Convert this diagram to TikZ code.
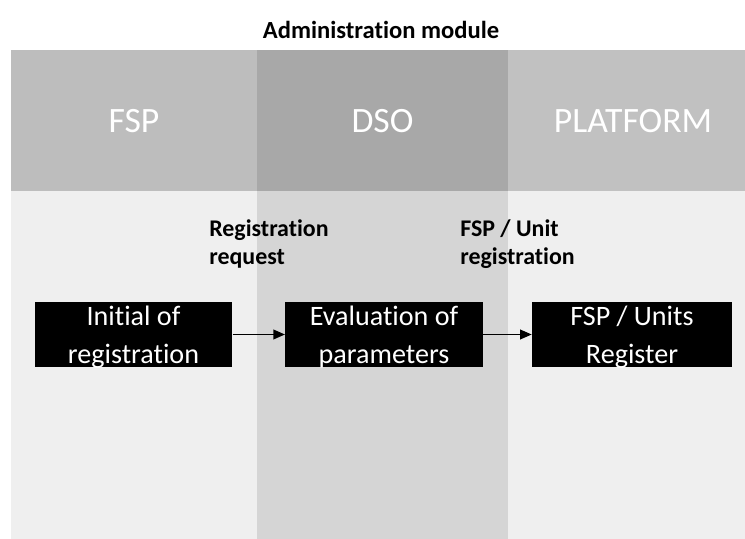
\documentclass[tikz,border=0pt]{standalone}
\usepackage{fontspec}
\setmainfont{Carlito}[Ligatures=CommonOff]
\usepackage{xcolor}
\usepackage{tikz}
\usetikzlibrary{positioning, arrows.meta}
\definecolor{S1}{HTML}{BDBDBD}
\definecolor{S2}{HTML}{A8A8A8}
\definecolor{S3}{HTML}{C1C1C1}
\definecolor{L1}{HTML}{EFEFEF}
\definecolor{L2}{HTML}{D5D5D5}

\begin{document}
\begin{tikzpicture}[
	lanehead/.style = {text=white, font=\fontsize{20.3}{24}\selectfont},
	stepbox/.style = {rectangle, align=center, fill=black, text=white, inner sep=1pt, text depth=0pt,
		minimum width=3.95cm, minimum height=1.3cm, font=\fontsize{16}{21.5}\selectfont},
	msg/.style = {align=left, anchor=west, inner sep=0pt, font=\bfseries\fontsize{13.6}{15.9}\selectfont},
  every edge/.style={draw, -{Triangle[length=6.5pt, width=5.5pt]}, line width=0.8pt}
]
  \useasboundingbox (0, 0) rectangle (14.9, -10.78);

  % Lanes
  \fill[S1] (0.22, -1.0) rectangle (5.14, -3.82);
  \fill[S2] (5.14, -1.0) rectangle (10.16, -3.82);
  \fill[S3] (10.16, -1.0) rectangle (14.9, -3.82);
  \fill[L1] (0.22, -3.82) rectangle (5.14, -10.78);
  \fill[L2] (5.14, -3.82) rectangle (10.16, -10.78);
  \fill[L1] (10.16, -3.82) rectangle (14.9, -10.78);

  % Titles
  \node[font=\bfseries\fontsize{14}{16}\selectfont] at (7.62, -0.6) (title) {Administration module};
  \node[lanehead] at (2.68, -2.42) (fsp) {FSP};
  \node[lanehead] at (7.65, -2.42) (dso) {DSO};
  \node[lanehead] at (12.66, -2.42) (platform) {PLATFORM};

  % Steps
  \node[stepbox] at (2.67, -6.69) (init) {Initial of \\ registration};
  \node[stepbox] at (7.68, -6.69) (eval) {Evaluation of \\ parameters};
  \node[stepbox, minimum width=4cm] at (12.64, -6.69) (reg) {FSP / Units \\ Register};

  % Messages
  \node[msg] at (4.18, -4.88) (request) {Registration \\ request};
  \node[msg] at (9.2, -4.88) (unitreg) {FSP / Unit \\ registration};

  % Edges
  \draw (init) edge (eval);
  \draw (eval) edge (reg);
\end{tikzpicture}
\end{document}
